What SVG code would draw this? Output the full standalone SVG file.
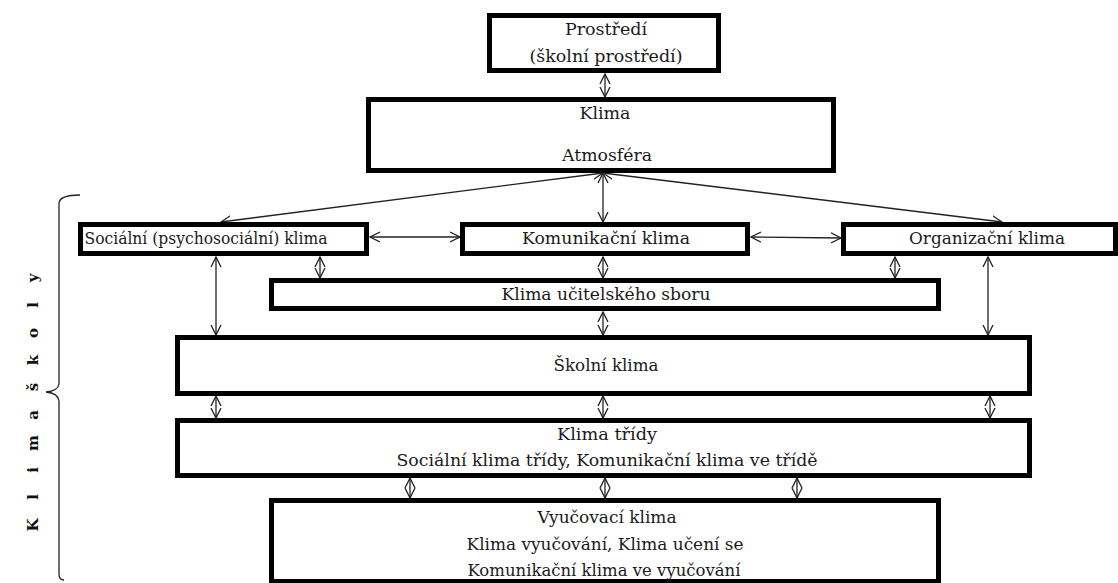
<svg xmlns="http://www.w3.org/2000/svg" width="1118" height="583" viewBox="0 0 1118 583">
<style>
.box{fill:#fff;stroke:#000;stroke-width:5}
.t{font-family:"DejaVu Serif","Liberation Serif",serif;font-size:16px;fill:#1a1a1a;text-anchor:middle}
.c{fill:none;stroke:#222;stroke-width:1.3;marker-start:url(#ah);marker-end:url(#ah)}
.side{font-family:"DejaVu Serif","Liberation Serif",serif;font-size:15px;font-weight:bold;fill:#111;text-anchor:middle}
</style>
<defs>
<marker id="ah" markerUnits="userSpaceOnUse" markerWidth="12" markerHeight="12" refX="10" refY="5" orient="auto-start-reverse" viewBox="0 0 12 10">
<path d="M0,0 L10,5 L0,10" fill="none" stroke="#222" stroke-width="1.3"/>
</marker>
</defs>
<rect width="1118" height="583" fill="#fff"/>
<g id="connectors">
<line class="c" x1="605" y1="74" x2="605" y2="97"/>
<line class="c" x1="603" y1="173" x2="221" y2="222"/>
<line class="c" x1="603" y1="173" x2="603" y2="222"/>
<line class="c" x1="603" y1="173" x2="1002" y2="222"/>
<line class="c" x1="370" y1="237" x2="460" y2="237"/>
<line class="c" x1="751" y1="237" x2="841" y2="238"/>
<line class="c" x1="216" y1="257" x2="216" y2="335"/>
<line class="c" x1="320" y1="257" x2="320" y2="278"/>
<line class="c" x1="603" y1="257" x2="603" y2="278"/>
<line class="c" x1="895" y1="257" x2="895" y2="278"/>
<line class="c" x1="988" y1="257" x2="988" y2="335"/>
<line class="c" x1="603" y1="312" x2="603" y2="335"/>
<line class="c" x1="216" y1="396" x2="216" y2="418"/>
<line class="c" x1="603" y1="396" x2="603" y2="418"/>
<line class="c" x1="990" y1="396" x2="990" y2="418"/>
<line class="c" x1="410" y1="478" x2="410" y2="498"/>
<line class="c" x1="605" y1="478" x2="605" y2="498"/>
<line class="c" x1="797" y1="478" x2="797" y2="498"/>
</g>
<g id="prostredi">
<rect class="box" x="489.5" y="15.5" width="229" height="55"/>
<text class="t" x="606" y="35" textLength="82" lengthAdjust="spacingAndGlyphs">Prostředí</text>
<text class="t" x="606" y="62" textLength="153" lengthAdjust="spacingAndGlyphs">(školní prostředí)</text>
</g>
<g id="klima">
<rect class="box" x="368.5" y="99.5" width="465" height="71"/>
<text class="t" x="605" y="119" textLength="51" lengthAdjust="spacingAndGlyphs">Klima</text>
<text class="t" x="607" y="161" textLength="90" lengthAdjust="spacingAndGlyphs">Atmosféra</text>
</g>
<g id="socialni">
<rect class="box" x="80.5" y="224.5" width="286" height="29"/>
<text class="t" x="206" y="244" textLength="243" lengthAdjust="spacingAndGlyphs">Sociální (psychosociální) klima</text>
</g>
<g id="komunikacni">
<rect class="box" x="462.5" y="224.5" width="285" height="29"/>
<text class="t" x="606" y="244" textLength="168" lengthAdjust="spacingAndGlyphs">Komunikační klima</text>
</g>
<g id="organizacni">
<rect class="box" x="843.5" y="224.5" width="272" height="29"/>
<text class="t" x="987" y="244" textLength="156" lengthAdjust="spacingAndGlyphs">Organizační klima</text>
</g>
<g id="sbor">
<rect class="box" x="271.5" y="280.5" width="667" height="28"/>
<text class="t" x="606" y="300" textLength="209" lengthAdjust="spacingAndGlyphs">Klima učitelského sboru</text>
</g>
<g id="skolni">
<rect class="box" x="177.5" y="337.5" width="852" height="56"/>
<text class="t" x="606" y="371" textLength="105" lengthAdjust="spacingAndGlyphs">Školní klima</text>
</g>
<g id="trida">
<rect class="box" x="177.5" y="420.5" width="852" height="55"/>
<text class="t" x="607" y="440" textLength="100" lengthAdjust="spacingAndGlyphs">Klima třídy</text>
<text class="t" x="607" y="466" textLength="421" lengthAdjust="spacingAndGlyphs">Sociální klima třídy, Komunikační klima ve třídě</text>
</g>
<g id="vyucovaci">
<rect class="box" x="271.5" y="500.5" width="667" height="81"/>
<text class="t" x="607" y="523" textLength="139" lengthAdjust="spacingAndGlyphs">Vyučovací klima</text>
<text class="t" x="605" y="550" textLength="277" lengthAdjust="spacingAndGlyphs">Klima vyučování, Klima učení se</text>
<text class="t" x="604" y="576" textLength="273" lengthAdjust="spacingAndGlyphs">Komunikační klima ve vyučování</text>
</g>
<g id="klima-skoly">
<path d="M80,195 Q60,195 59,203 L59,384 Q58,391 46,392 Q58,393 59,401 L59,574 Q59,580 64,580" fill="none" stroke="#222" stroke-width="1.3"/>
<text class="side" transform="translate(38,0) rotate(-90)" x="-525 -497 -470 -443 -415 -387 -360 -333 -305 -278" y="0">Klimaškoly</text>
</g>
</svg>
